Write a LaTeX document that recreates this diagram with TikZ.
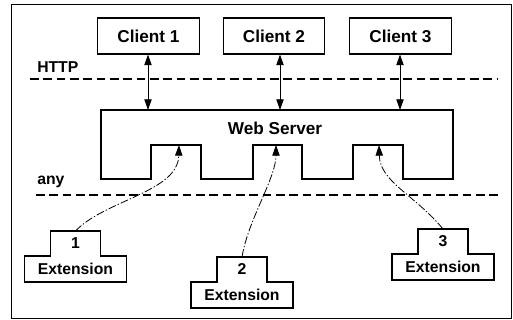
\documentclass[tikz,border=0pt]{standalone}
\usepackage{fontspec}
\setmainfont{Liberation Sans}
\usetikzlibrary{arrows.meta}
\tikzset{
  client/.style={draw, line width=0.8pt, minimum width=76pt, minimum height=27pt, inner sep=0pt, font=\fontsize{12.9}{14}\selectfont\bfseries},
  lbl/.style={inner sep=0pt, font=\fontsize{11.8}{13}\selectfont\bfseries},
  layer/.style={line width=0.8pt, dash pattern=on 6.5pt off 3.5pt},
  link/.style={line width=0.6pt, {Triangle[length=8pt,width=5.5pt]}-{Triangle[length=8pt,width=5.5pt]}},
  plug/.style={line width=0.6pt, dash pattern=on 6pt off 1.5pt on 1pt off 1.5pt, -{Triangle[length=8pt,width=5.5pt]}}
}
\begin{document}
\begin{tikzpicture}[x=0.75pt, y=-0.75pt]
            \useasboundingbox (0,0) rectangle (513,320);
            % Cornice
            \draw[line width=0.6pt] (11,4) rectangle (511,318);
            % Client
            \node[client] (c1) at (148.5,36) {Client 1};
            \node[client] (c2) at (274,36) {Client 2};
            \node[client] (c3) at (400.5,36) {Client 3};
            % Livelli
            \node[lbl, anchor=west] (http) at (37,67) {HTTP};
            \node[lbl, anchor=west] (any) at (37,182) {any};
            \draw[layer] (30,79) -- (497,79);
            \draw[layer] (36,195) -- (501,195);
            % Server
            \draw[line width=0.8pt] (101,110) -- (453,110) -- (453,179) -- (403,179) -- (403,145) -- (353,145)
              -- (353,179) -- (302,179) -- (302,145) -- (253,145) -- (253,179) -- (201,179) -- (201,145)
              -- (151,145) -- (151,179) -- (101,179) -- cycle;
            \node[font=\fontsize{12.9}{14}\selectfont\bfseries] (srv) at (275,128) {Web Server};
            \coordinate (s1) at (148,110);
            \coordinate (s2) at (280,110);
            \coordinate (s3) at (400,110);
            \coordinate (p1) at (179,145);
            \coordinate (p2) at (276,145);
            \coordinate (p3) at (379,145);
            \draw[link] (c1.south -| s1) -- (s1);
            \draw[link] (c2.south -| s2) -- (s2);
            \draw[link] (c3.south -| s3) -- (s3);
            % Estensioni
            \foreach \n/\x/\y in {1/75.5/231, 2/242/257, 3/443/229} {
              \draw[line width=0.8pt] (\x-25,\y) -- (\x+25,\y) -- (\x+25,\y+25) -- (\x+51,\y+25) -- (\x+51,\y+51)
                -- (\x-51,\y+51) -- (\x-51,\y+25) -- (\x-25,\y+25) -- cycle;
              \coordinate (t\n) at (\x,\y);
              \node[lbl] (n\n) at (\x,\y+12.5) {\n};
              \node[lbl] (e\n) at (\x,\y+38) {Extension};
            }
            \draw[plug] (t1) .. controls (105,200) and (178,192) .. (p1);
            \draw[plug] (t2) .. controls (248,220) and (276,178) .. (p2);
            \draw[plug] (t3) .. controls (415,195) and (380,182) .. (p3);
\end{tikzpicture}
\end{document}
